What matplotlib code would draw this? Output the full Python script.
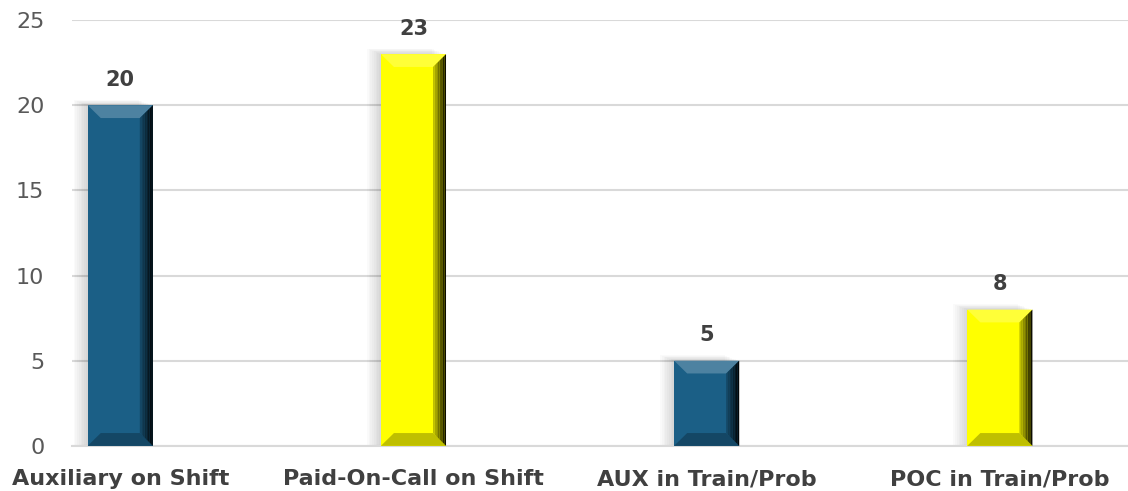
import matplotlib.pyplot as plt
from matplotlib.patches import Polygon, Rectangle
from matplotlib.colors import to_rgb
import numpy as np

categories = ["Auxiliary on Shift", "Paid-On-Call on Shift", "AUX in Train/Prob", "POC in Train/Prob"]
values = [20, 23, 5, 8]
colors = ["#1b5f86", "#ffff00", "#1b5f86", "#ffff00"]
yticks = [0, 5, 10, 15, 20, 25]

plt.rcParams['font.family'] = ['DejaVu Sans']

fig = plt.figure(figsize=(11.28, 4.91), dpi=100)
ax = fig.add_axes([0.064, 0.092, 0.936, 0.867])

x = np.arange(len(categories))
bar_w = 0.222
bars = ax.bar(x, values, width=bar_w, color=colors, zorder=3)

ax.set_xlim(-0.164, 3.437)
ax.set_ylim(0, 25)


def shade(c, f):
    # f < 1 darker, f > 1 lighter
    r = np.array(to_rgb(c))
    if f < 1:
        return tuple(r * f)
    return tuple(r + (1 - r) * (f - 1))


# bevel look, built from each bar's own geometry
bx = bar_w * 0.2
by = 0.75
for b, c in zip(bars, colors):
    x0 = b.get_x()
    x1 = x0 + b.get_width()
    h = b.get_height()
    # soft shadow left and behind
    for k in range(8):
        ax.add_patch(Rectangle((x0 - 0.006 * (k + 1), 0), b.get_width(), h + 0.04 * (k + 1),
                               color="black", alpha=0.02, lw=0, zorder=2))
    ax.add_patch(Polygon([(x0, h), (x1, h), (x1 - bx, h - by), (x0 + bx, h - by)],
                         closed=True, color=shade(c, 1.22), lw=0, zorder=4))
    ax.add_patch(Polygon([(x0, 0), (x1, 0), (x1 - bx, by), (x0 + bx, by)],
                         closed=True, color=shade(c, 0.75), lw=0, zorder=4))
    n = 8
    for k in range(n):
        xa = x1 - bx + bx * k / n
        xb = x1 - bx + bx * (k + 1) / n
        f = 0.85 - 0.8 * (k + 1) / n
        ax.add_patch(Polygon([(xa, h - by * (1 - k / n)), (xb, h - by * (1 - (k + 1) / n)),
                              (xb, by * (1 - (k + 1) / n)), (xa, by * (1 - k / n))],
                             closed=True, color=shade(c, f), lw=0, zorder=4))
    ax.text(b.get_x() + b.get_width() / 2, h + 0.9, str(int(h)), ha="center", va="bottom",
            fontsize=15, fontweight="bold", color="#404040", zorder=5)

ax.set_yticks(yticks)
ax.set_xticks(x)
ax.set_xticklabels(categories, fontsize=16, fontweight="bold", color="#404040")
ax.tick_params(axis="y", labelsize=16, labelcolor="#595959", length=0, pad=20)
ax.tick_params(axis="x", length=0, pad=17)

ax.grid(axis="y", color="#d9d9d9", lw=1.5, zorder=0)
for s in ["top", "right", "left"]:
    ax.spines[s].set_visible(False)
ax.spines["bottom"].set_color("#d9d9d9")
ax.spines["bottom"].set_linewidth(1.5)

plt.savefig("out.png", dpi=100)
